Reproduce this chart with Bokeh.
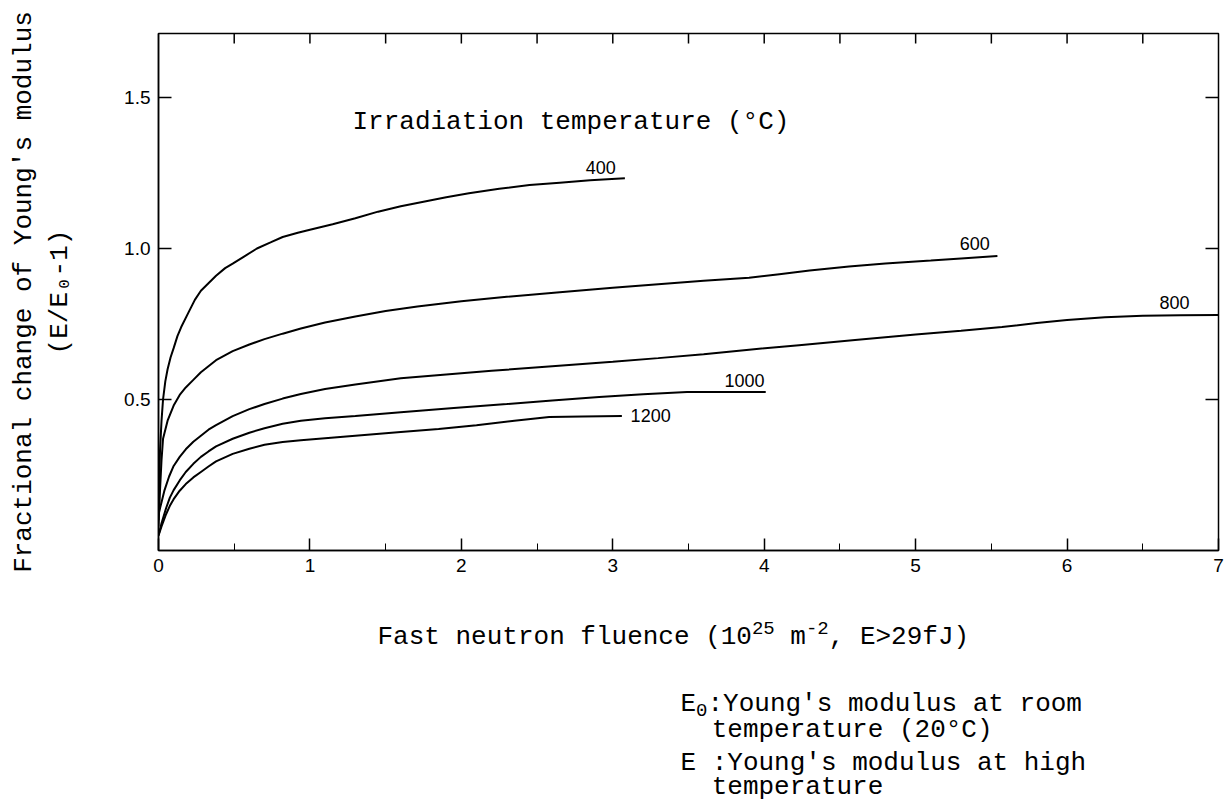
from bokeh.plotting import figure
from bokeh.layouts import column
from bokeh.models import LinearAxis, FixedTicker, Range1d, PrintfTickFormatter
from bokeh.core.properties import value
from bokeh.embed import file_html
from bokeh.resources import INLINE
import math

# ---------------- data ----------------
x400 = [0, 0.005, 0.01, 0.02, 0.03, 0.045, 0.06, 0.08, 0.1, 0.125, 0.15, 0.2, 0.24, 0.28, 0.33, 0.38,
        0.44, 0.49, 0.57, 0.65, 0.74, 0.82, 0.92, 1.0, 1.15, 1.3, 1.45, 1.6, 1.75, 1.9, 2.05, 2.25,
        2.45, 2.65, 2.85, 3.08]
y400 = [0.10, 0.22, 0.33, 0.43, 0.50, 0.56, 0.60, 0.64, 0.67, 0.71, 0.74, 0.79, 0.83, 0.86, 0.885, 0.91,
        0.935, 0.95, 0.975, 1.0, 1.02, 1.038, 1.052, 1.062, 1.08, 1.10, 1.122, 1.14, 1.155, 1.17, 1.183, 1.198,
        1.21, 1.218, 1.226, 1.233]

x600 = [0, 0.01, 0.02, 0.03, 0.06, 0.1, 0.14, 0.18, 0.23, 0.28, 0.33, 0.38, 0.49, 0.6, 0.7, 0.82, 0.94,
        1.1, 1.3, 1.5, 1.71, 2.0, 2.3, 2.65, 3.0, 3.3, 3.6, 3.9, 4.1, 4.3, 4.56, 4.8, 5.1, 5.3, 5.54]
y600 = [0.08, 0.20, 0.30, 0.37, 0.43, 0.48, 0.515, 0.54, 0.565, 0.59, 0.61, 0.63, 0.66, 0.682, 0.70, 0.718, 0.735,
        0.755, 0.775, 0.793, 0.808, 0.825, 0.84, 0.855, 0.87, 0.882, 0.893, 0.903, 0.915, 0.927, 0.94, 0.95, 0.96, 0.967, 0.975]

x800 = [0, 0.02, 0.04, 0.07, 0.1, 0.14, 0.18, 0.23, 0.28, 0.33, 0.38, 0.49, 0.6, 0.7, 0.82, 0.94, 1.1,
        1.3, 1.6, 1.9, 2.2, 2.6, 3.0, 3.3, 3.6, 3.9, 4.23, 4.6, 5.0, 5.3, 5.57, 5.8, 6.0, 6.25, 6.5, 6.75, 7.0]
y800 = [0.12, 0.16, 0.20, 0.245, 0.28, 0.31, 0.335, 0.36, 0.38, 0.40, 0.415, 0.445, 0.468, 0.485, 0.503, 0.518, 0.535,
        0.55, 0.57, 0.583, 0.595, 0.61, 0.625, 0.637, 0.65, 0.665, 0.68, 0.697, 0.715, 0.728, 0.74, 0.753, 0.763, 0.772, 0.777, 0.779, 0.78]

x1000 = [0, 0.02, 0.05, 0.075, 0.1, 0.14, 0.18, 0.23, 0.28, 0.33, 0.38, 0.49, 0.6, 0.7, 0.82, 0.94, 1.1,
         1.3, 1.6, 1.95, 2.3, 2.6, 2.91, 3.2, 3.49, 3.75, 4.01]
y1000 = [0.05, 0.09, 0.14, 0.175, 0.20, 0.232, 0.26, 0.287, 0.31, 0.328, 0.345, 0.37, 0.39, 0.405, 0.42, 0.43, 0.438,
         0.445, 0.458, 0.472, 0.485, 0.497, 0.508, 0.517, 0.525, 0.525, 0.525]

x1200 = [0, 0.02, 0.05, 0.075, 0.1, 0.14, 0.18, 0.23, 0.28, 0.33, 0.38, 0.49, 0.6, 0.7, 0.82, 0.94, 1.1,
         1.3, 1.6, 1.85, 2.1, 2.35, 2.58, 2.8, 3.06]
y1200 = [0.05, 0.08, 0.12, 0.148, 0.17, 0.198, 0.22, 0.242, 0.26, 0.278, 0.295, 0.32, 0.337, 0.35, 0.359, 0.365, 0.372,
         0.38, 0.392, 0.402, 0.415, 0.43, 0.442, 0.444, 0.445]

curve_labels = ["400", "600", "800", "1000", "1200"]
curve_label_x = [2.92, 5.39, 6.71, 3.87, 3.25]
curve_label_y = [1.268, 1.017, 0.821, 0.563, 0.447]

x_ticks = [0, 1, 2, 3, 4, 5, 6, 7]
x_minor = [0.5, 1.5, 2.5, 3.5, 4.5, 5.5, 6.5]
y_ticks = [0.5, 1.0, 1.5]
top_ticks = [0.5, 1, 1.5, 2, 2.5, 3, 3.5, 4, 4.5, 5, 5.5, 6, 6.5]

y_title_1 = "Fractional change of Young's modulus"
y_title_2 = "(E/E\u2080-1)"

# ---------------- layout ----------------
W, H = 1228, 801
TOPH = 600          # height of the chart figure
FL, FT, FR, FB = 158, 33, 1218, 550   # frame edges (absolute pixels)
XMAX = 7.0
YMAX = (FB - FT) / 302.0

MONO = "Liberation Mono"
SANS = "Liberation Sans"
FS = 26
CW = 0.6 * FS
SFS = 19
SCW = 0.6 * SFS

p = figure(width=W, height=TOPH, x_range=Range1d(0, XMAX), y_range=Range1d(0, YMAX),
           output_backend="svg", toolbar_location=None,
           min_border_left=FL, min_border_right=W - FR, min_border_top=FT,
           min_border_bottom=TOPH - FB)
p.xgrid.visible = False
p.ygrid.visible = False
p.outline_line_color = "black"
p.outline_line_width = 1.5

xa = p.xaxis[0]
xa.ticker = FixedTicker(ticks=x_ticks, minor_ticks=x_minor)
xa.major_tick_in = 12
xa.major_tick_out = 0
xa.minor_tick_in = 7
xa.minor_tick_out = 0
xa.major_label_standoff = 8
xa.major_label_text_font = SANS
xa.major_label_text_font_size = "19px"
xa.major_label_text_color = "black"
xa.axis_line_width = 1.5
xa.major_tick_line_width = 1.5

ya = p.yaxis[0]
ya.ticker = FixedTicker(ticks=y_ticks, minor_ticks=[])
ya.formatter = PrintfTickFormatter(format="%.1f")
ya.major_tick_in = 13
ya.major_tick_out = 0
ya.minor_tick_line_color = None
ya.major_label_standoff = 8
ya.major_label_text_font = SANS
ya.major_label_text_font_size = "19px"
ya.major_label_text_color = "black"
ya.axis_line_width = 1.5
ya.major_tick_line_width = 1.5
ya.axis_label = y_title_2
ya.axis_label_text_font = MONO
ya.axis_label_text_font_size = f"{FS}px"
ya.axis_label_text_font_style = "normal"
ya.axis_label_text_color = "black"
ya.axis_label_standoff = 46

# outer left axis carrying only the first title line
ya2 = LinearAxis(ticker=FixedTicker(ticks=[], minor_ticks=[]),
                 major_label_text_font_size="0px", major_label_standoff=0,
                 major_tick_line_color=None, minor_tick_line_color=None,
                 axis_line_color=None, axis_label=y_title_1,
                 axis_label_text_font=MONO, axis_label_text_font_size=f"{FS}px",
                 axis_label_text_font_style="normal", axis_label_text_color="black",
                 axis_label_standoff=4)
p.add_layout(ya2, "left")

# inward ticks on the top and right frame edges (half of each dash is clipped by the frame)
p.scatter(x=top_ticks, y=[YMAX] * len(top_ticks), marker="dash", size=20, angle=math.pi / 2,
          line_color="black", line_width=1.5)
p.scatter(x=[XMAX] * len(y_ticks), y=y_ticks, marker="dash", size=26,
          line_color="black", line_width=1.5)

for xs, ys in [(x400, y400), (x600, y600), (x800, y800), (x1000, y1000), (x1200, y1200)]:
    p.line(xs, ys, line_color="black", line_width=2)

p.text(x=curve_label_x, y=curve_label_y, text=curve_labels,
       text_font=value(SANS), text_font_size=value("18px"),
       text_align="center", text_baseline="middle", text_color="black")

def px2x(px):
    return (px - FL) / (FR - FL) * XMAX

def px2y(py):
    return (FB - py) / (FB - FT) * YMAX

p.text(x=[px2x(352)], y=[px2y(121)], text=["Irradiation temperature (\u00b0C)"],
       text_font=value(MONO), text_font_size=value(f"{FS}px"),
       text_align="left", text_baseline="middle", text_color="black")

# ---- bottom strip: x title and notes (coordinates are page pixels) ----
BH = H - TOPH
B = figure(width=W, height=BH, x_range=Range1d(FL, FR), y_range=Range1d(0, BH),
           output_backend="svg", toolbar_location=None,
           x_axis_location=None, y_axis_location=None,
           min_border_left=FL, min_border_right=W - FR, min_border_top=0, min_border_bottom=0)
B.xgrid.visible = False
B.ygrid.visible = False
B.outline_line_color = None

def btext(ax, ay, text, size=FS):
    B.text(x=[ax], y=[H - ay], text=[text],
           text_font=value(MONO), text_font_size=value(f"{size}px"),
           text_align="left", text_baseline="middle", text_color="black")

tx, ty = 377, 636
seg1 = "Fast neutron fluence (10"
btext(tx, ty, seg1)
tx += len(seg1) * CW
btext(tx, ty - 9, "25", size=SFS)
tx += 2 * SCW + CW
btext(tx, ty, "m")
tx += CW
btext(tx, ty - 9, "-2", size=SFS)
tx += 2 * SCW
btext(tx, ty, ", E>29fJ)")

nx = 680
btext(nx, 703, "E")
btext(nx + CW, 709, "0", size=SFS)
btext(nx + CW + SCW, 703, ":Young's modulus at room")
btext(nx + 2 * CW, 729, "temperature (20\u00b0C)")
btext(nx, 762, "E :Young's modulus at high")
btext(nx + 2 * CW, 786, "temperature")

layout = column(p, B)
open("out.html", "w").write(file_html(layout, INLINE))
